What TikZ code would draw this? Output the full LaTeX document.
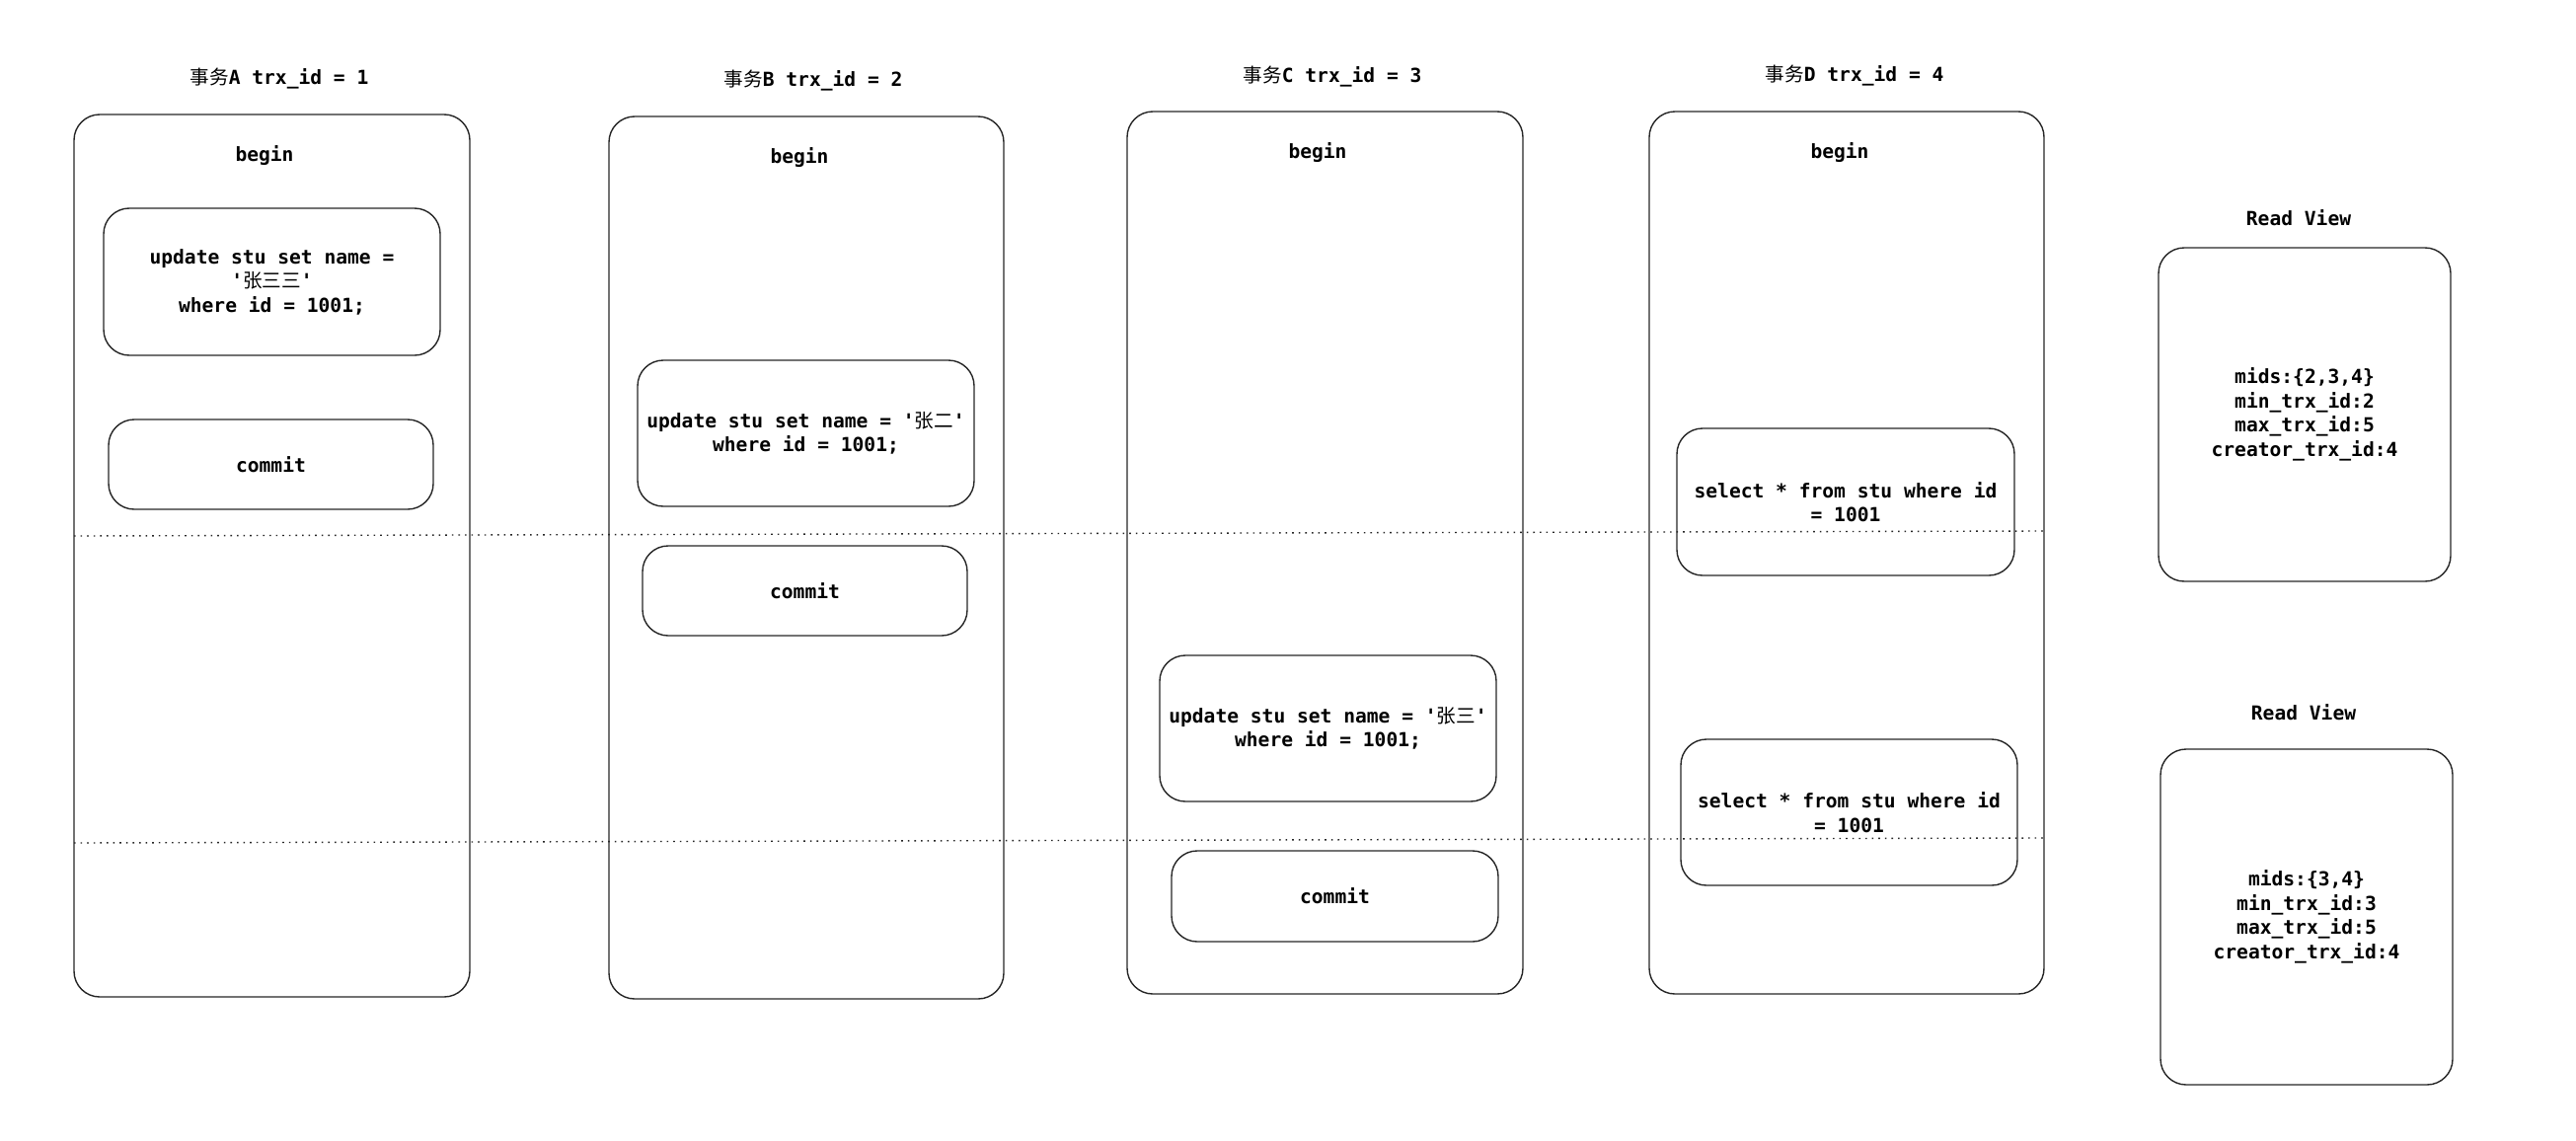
\documentclass[tikz,border=0pt]{standalone}
\usepackage{fontspec}
\setmonofont{DejaVu Sans Mono}
\newfontfamily\cjk{Noto Sans CJK SC}
\newcommand\zh[1]{{\cjk\mdseries #1}}
\begin{document}
\begin{tikzpicture}[x=1pt,y=-1pt,
  every node/.style={font=\fontsize{19.6}{24.5}\selectfont\ttfamily\bfseries, text=black},
  txbox/.style={draw=black!85, line width=1.4pt, rounded corners=26pt, inner sep=0pt, align=center},
  lbl/.style={inner sep=0pt, align=center},
  timeline/.style={draw=black!85, line width=1.4pt, dash pattern=on 1.6pt off 5pt}]
\useasboundingbox (0,0) rectangle (2610,1156);
% transaction containers
\node[txbox, minimum width=401pt, minimum height=894pt] (boxA) at (275.5,563) {};
\node[txbox, minimum width=400pt, minimum height=894pt] (boxB) at (817,565) {};
\node[txbox, minimum width=401pt, minimum height=894pt] (boxC) at (1342.5,560) {};
\node[txbox, minimum width=400pt, minimum height=894pt] (boxD) at (1871,560) {};
% titles
\node[lbl] (tA) at (283,80) {\zh{事务}A trx\_id = 1};
\node[lbl] (tB) at (824,82) {\zh{事务}B trx\_id = 2};
\node[lbl] (tC) at (1350,78) {\zh{事务}C trx\_id = 3};
\node[lbl] (tD) at (1879,77) {\zh{事务}D trx\_id = 4};
% begins
\node[lbl] (bA) at (268,158) {begin};
\node[lbl] (bB) at (810,160) {begin};
\node[lbl] (bC) at (1335,155) {begin};
\node[lbl] (bD) at (1864,155) {begin};
% A
\node[txbox, minimum width=341pt, minimum height=149pt] (uA) at (275.5,285.5)
  {update stu set name =\\'\zh{张三三}'\\where id = 1001;};
\node[txbox, minimum width=329pt, minimum height=91pt] (cA) at (274.5,470.5) {commit};
% B
\node[txbox, minimum width=341pt, minimum height=148pt] (uB) at (816.5,439)
  {update stu set name = '\zh{张二}'\\where id = 1001;};
\node[txbox, minimum width=329pt, minimum height=91pt] (cB) at (815.5,598.5) {commit};
% C
\node[txbox, minimum width=341pt, minimum height=148pt] (uC) at (1345.5,738)
  {update stu set name = '\zh{张三}'\\where id = 1001;};
\node[txbox, minimum width=331pt, minimum height=92pt] (cC) at (1352.5,908) {commit};
% D
\node[txbox, minimum width=342pt, minimum height=149pt] (s1) at (1870,508.5)
  {select * from stu where id\\= 1001};
\node[txbox, minimum width=341pt, minimum height=148pt] (s2) at (1873.5,823)
  {select * from stu where id\\= 1001};
% read views
\node[lbl] (rv1t) at (2329,221) {Read View};
\node[txbox, minimum width=296pt, minimum height=338pt] (rv1) at (2335,420)
  {mids:\{2,3,4\}\\min\_trx\_id:2\\max\_trx\_id:5\\creator\_trx\_id:4};
\node[lbl] (rv2t) at (2334,722) {Read View};
\node[txbox, minimum width=296pt, minimum height=340pt] (rv2) at (2337,929)
  {mids:\{3,4\}\\min\_trx\_id:3\\max\_trx\_id:5\\creator\_trx\_id:4};
% time lines
\coordinate (l1s) at (75,543);
\coordinate (l1e) at (2071,538);
\coordinate (l2s) at (75,854);
\coordinate (l2e) at (2071,849);
\draw[timeline] (l1s) -- (l1e);
\draw[timeline] (l2s) -- (l2e);
\end{tikzpicture}
\end{document}
